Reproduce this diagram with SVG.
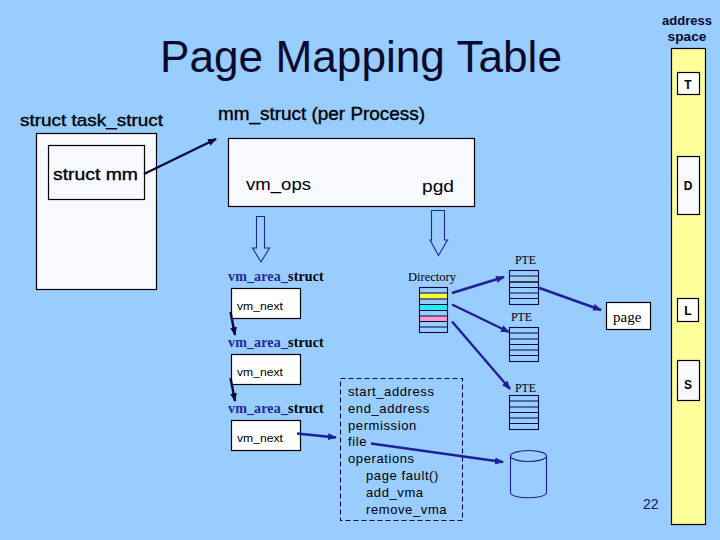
<svg xmlns="http://www.w3.org/2000/svg" width="720" height="540" viewBox="0 0 720 540">
<style>
text{font-family:"Liberation Sans",Arial,sans-serif;fill:#000}
.s{font-family:"Liberation Serif","Times New Roman",serif;font-size:13px}
.b{fill:#f8f8ff;stroke:#000;stroke-width:1.2}
.w{fill:#fff;stroke:#000;stroke-width:1.2}
.h{fill:#99ccff;stroke:#1c2a96;stroke-width:1.1}
.t{fill:#99ccff;stroke:#000a3c;stroke-width:1.1}
.l{fill:none;stroke:#000a3c;stroke-width:1.1}
.c1{stroke:#1f1f99;stroke-width:2.4;fill:none;marker-end:url(#ab)}
.c2{stroke:#0a0a3c;stroke-width:2.4;fill:none;marker-end:url(#ak)}
.m{font-size:13px;letter-spacing:.6px}
.v{font-size:11px}
.a{font-family:"Liberation Serif",serif;font-size:14px;font-weight:bold;letter-spacing:.15px;fill:#000}
.n{fill:#1f2a99}
.lab{font-size:12px;font-weight:bold;text-anchor:middle}
.hd{stroke:#000;stroke-width:.35}
</style>
<defs>
<marker id="ab" markerWidth="10" markerHeight="8" refX="8" refY="3.5" orient="auto" markerUnits="userSpaceOnUse"><path d="M0 0L9 3.500L0 7z" fill="#1f1f99"/></marker>
<marker id="ak" markerWidth="10" markerHeight="8" refX="8" refY="3.5" orient="auto" markerUnits="userSpaceOnUse"><path d="M0 0L9 3.500L0 7z" fill="#0a0a3c"/></marker>
</defs>
<rect width="720" height="540" fill="#99ccff"/>
<text x="160" y="72" font-size="44" style="fill:#0a0a2c" textLength="402" lengthAdjust="spacingAndGlyphs" id="title">Page Mapping Table</text>
<g id="task_struct">
<text class="hd" x="20" y="126" font-size="17" textLength="143" lengthAdjust="spacingAndGlyphs">struct task_struct</text>
<rect class="b" x="36.500" y="133.500" width="120" height="156"/>
</g>
<g id="struct_mm">
<rect class="b" x="48.500" y="145.500" width="96" height="54"/>
<text class="hd" x="53" y="180" font-size="17" textLength="85" lengthAdjust="spacingAndGlyphs">struct mm</text>
</g>
<g id="mm_struct">
<text class="hd" x="218" y="120" font-size="17.500" textLength="207" lengthAdjust="spacingAndGlyphs">mm_struct (per Process)</text>
<rect class="b" x="228.500" y="138.500" width="246" height="68"/>
<text x="246" y="190" font-size="17" textLength="65" lengthAdjust="spacingAndGlyphs">vm_ops</text>
<text x="422" y="192" font-size="17" textLength="32" lengthAdjust="spacingAndGlyphs">pgd</text>
</g>
<g id="hollow_arrows">
<path class="h" d="M256.500 216.500H264.500V248H269.500L261 262L252.500 248H256.500Z"/>
<path class="h" d="M431.500 210.500H444.500V240H447.500L438.500 255.500L430 240H431.500Z"/>
</g>
<g id="vma1">
<text x="228" y="281" class="a"><tspan style="fill:#1f2a99">vm_area_</tspan>struct</text>
<rect class="w" x="231.500" y="288.500" width="69" height="30"/>
<text x="237" y="310" class="v" textLength="46" lengthAdjust="spacingAndGlyphs">vm_next</text>
</g>
<g id="vma2">
<text x="228" y="347" class="a"><tspan style="fill:#1f2a99">vm_area_</tspan>struct</text>
<rect class="w" x="231.500" y="354.500" width="69" height="30"/>
<text x="237" y="376" class="v" textLength="46" lengthAdjust="spacingAndGlyphs">vm_next</text>
</g>
<g id="vma3">
<text x="228" y="413" class="a"><tspan style="fill:#1f2a99">vm_area_</tspan>struct</text>
<rect class="w" x="231.500" y="420.500" width="69" height="30"/>
<text x="237" y="442" class="v" textLength="46" lengthAdjust="spacingAndGlyphs">vm_next</text>
</g>
<g id="vma_detail">
<rect x="340.500" y="378.500" width="122" height="142" fill="none" stroke="#0a0a3c" stroke-width="1.1" stroke-dasharray="5 3"/>
<text class="m" x="348" y="396">start_address</text>
<text class="m" x="348" y="413">end_address</text>
<text class="m" x="348" y="430">permission</text>
<text class="m" x="348" y="446">file</text>
<text class="m" x="348" y="463">operations</text>
<text class="m" x="366" y="480">page fault()</text>
<text class="m" x="366" y="497">add_vma</text>
<text class="m" x="366" y="514">remove_vma</text>
</g>
<g id="directory">
<text class="s" x="408" y="281" textLength="48" lengthAdjust="spacingAndGlyphs" style="font-size:12.500px">Directory</text>
<rect class="t" x="419.500" y="287.500" width="28" height="45"/>
<rect x="420" y="293.500" width="27" height="5" fill="#ffff33"/>
<rect x="420" y="305" width="27" height="5.500" fill="#22eeee"/>
<rect x="420" y="316" width="27" height="5.500" fill="#ff99cc"/>
<path class="l" d="M419.500 293H447.500M419.500 299H447.500M419.500 304.500H447.500M419.500 310.500H447.500M419.500 316H447.500M419.500 321.500H447.500M419.500 327H447.500"/>
</g>
<g id="pte1">
<text class="s" x="515" y="264" textLength="21" lengthAdjust="spacingAndGlyphs" style="font-size:12px">PTE</text>
<rect class="t" x="509.500" y="270.500" width="29" height="34"/>
<rect x="510" y="276.500" width="28" height="5" fill="#a9c9e8"/>
<path class="l" d="M509.500 276H538.500M509.500 287.500H538.500M509.500 293H538.500M509.500 298.500H538.500"/>
<path d="M509.500 282H538.500" stroke="#000a3c" stroke-width="1.500"/>
</g>
<g id="pte2">
<text class="s" x="511" y="321" textLength="21" lengthAdjust="spacingAndGlyphs" style="font-size:12px">PTE</text>
<rect class="t" x="509.500" y="327.500" width="29" height="34"/>
<path class="l" d="M509.500 333H538.500M509.500 339H538.500M509.500 344.500H538.500M509.500 350H538.500M509.500 355.500H538.500"/>
</g>
<g id="pte3">
<text class="s" x="515" y="392" textLength="21" lengthAdjust="spacingAndGlyphs" style="font-size:12px">PTE</text>
<rect class="t" x="509.500" y="395.500" width="29" height="34"/>
<path class="l" d="M509.500 401H538.500M509.500 407H538.500M509.500 412.500H538.500M509.500 418H538.500M509.500 423.500H538.500"/>
</g>
<g id="disk">
<path d="M510.500 456V492.500C510.500 499.500 546.500 499.500 546.500 492.500V456" fill="#99ccff" stroke="#1f1f99" stroke-width="1.100"/>
<ellipse cx="528.500" cy="456" rx="18" ry="5.500" fill="#99ccff" stroke="#1f1f99" stroke-width="1.100"/>
</g>
<g id="page">
<rect class="w" x="606.500" y="302.500" width="44" height="27"/>
<text class="s" x="613" y="322" style="font-size:15px">page</text>
</g>
<g id="address_space">
<text x="687" y="25" font-size="13" font-weight="bold" text-anchor="middle" textLength="50" lengthAdjust="spacingAndGlyphs" style="fill:#0a0a2c">address</text>
<text x="687" y="41" font-size="13" font-weight="bold" text-anchor="middle" textLength="39" lengthAdjust="spacingAndGlyphs" style="fill:#0a0a2c">space</text>
<rect x="671.500" y="48.500" width="34" height="476" fill="#ffff99" stroke="#000" stroke-width="1.200"/>
</g>
<g id="seg_T"><rect class="w" x="677.500" y="72.500" width="22" height="22"/><text class="lab" x="688" y="89">T</text></g>
<g id="seg_D"><rect class="b" x="677.500" y="156.500" width="22" height="58"/><text class="lab" x="688" y="190">D</text></g>
<g id="seg_L"><rect class="w" x="677.500" y="298.500" width="21" height="23"/><text class="lab" x="688" y="315">L</text></g>
<g id="seg_S"><rect class="b" x="677.500" y="360.500" width="22" height="40"/><text class="lab" x="688" y="389">S</text></g>
<text x="643" y="509" font-size="14" style="fill:#14145a" id="page_number">22</text>
<g id="connectors">
<path class="c2" d="M144 174L216 139"/>
<path class="c2" d="M230.500 312L235 335"/>
<path class="c2" d="M230.500 378L235 401"/>
<path class="c1" d="M297 433.500L336 437.500"/>
<path class="c1" d="M452 293L504 277"/>
<path class="c1" d="M452 304.500L509 332"/>
<path class="c1" d="M452 321.500L510 389"/>
<path class="c1" d="M538 287.500L601 310"/>
<path class="c1" d="M371 443.500L503 462"/>
</g>
</svg>
